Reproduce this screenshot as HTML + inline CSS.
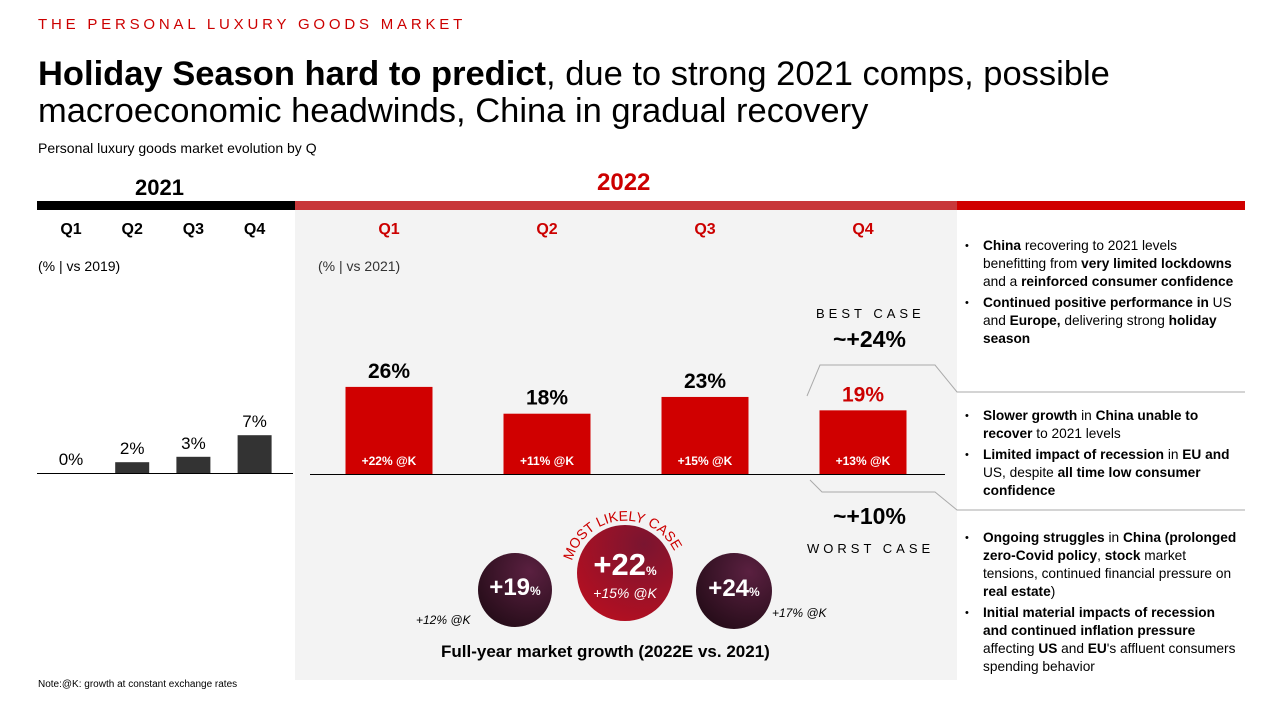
<!DOCTYPE html>
<html><head><meta charset="utf-8"><style>
body{margin:0;width:1280px;height:720px;position:relative;background:#fff;font-family:"Liberation Sans",sans-serif;overflow:hidden;color:#000}
.a{position:absolute;white-space:nowrap}
.q{position:absolute;top:221px;font-weight:bold;font-size:16px;transform:translateX(-50%)}
.bul{position:absolute;left:965px;width:272px;font-size:13.7px;line-height:18px}
.bul div{position:relative;padding-left:18px;margin-bottom:3px}
.bul div:before{content:"•";position:absolute;left:0;font-size:11px}
.circ{position:absolute;border-radius:50%;color:#fff;font-weight:bold;text-align:center}
</style></head><body>
<div class="a" style="left:38px;top:16px;font-size:15px;letter-spacing:3.8px;color:#c00">THE PERSONAL LUXURY GOODS MARKET</div>
<div class="a" style="left:38px;top:56px;font-size:34.5px;line-height:37px"><b>Holiday Season hard to predict</b>, due to strong 2021 comps, possible<br>macroeconomic headwinds, China in gradual recovery</div>
<div class="a" style="left:38px;top:140px;font-size:14px">Personal luxury goods market evolution by Q</div>
<div class="a" style="left:295px;top:209px;width:662px;height:471px;background:#f3f3f3"></div>
<div class="a" style="left:135px;top:175px;font-size:22px;font-weight:bold">2021</div>
<div class="a" style="left:597px;top:169px;font-size:24px;font-weight:bold;color:#c00">2022</div>
<div class="a" style="left:37px;top:201px;width:258px;height:9px;background:#000"></div>
<div class="a" style="left:295px;top:201px;width:662px;height:9px;background:#c8373a"></div>
<div class="a" style="left:957px;top:201px;width:288px;height:9px;background:#d00000"></div>
<div class="a" style="left:38px;top:258px;font-size:14px">(% | vs 2019)</div>
<div class="a" style="left:318px;top:258px;font-size:14px;color:#333">(% | vs 2021)</div>
<svg class="a" style="left:0;top:0" width="1280" height="720" id="chart">
<g id="g"></g>
<polyline points="807,396 820,365 935,365 957,392 1245,392" fill="none" stroke="#aaa"/>
<polyline points="810,480 822,492 935,492 957,510 1245,510" fill="none" stroke="#aaa"/>
</svg>
<div class="a" style="left:816px;top:306px;font-size:13px;letter-spacing:4px">BEST CASE</div>
<div class="a" style="left:833px;top:326px;font-size:23px;font-weight:bold">~+24%</div>
<div class="a" style="left:833px;top:503px;font-size:23px;font-weight:bold">~+10%</div>
<div class="a" style="left:807px;top:541px;font-size:13px;letter-spacing:4px">WORST CASE</div>
<div class="bul" style="top:237px">
<div><b>China</b> recovering to 2021 levels benefitting from <b>very limited lockdowns</b> and a <b>reinforced consumer confidence</b></div>
<div><b>Continued positive performance in</b> US and <b>Europe,</b> delivering strong <b>holiday season</b></div></div>
<div class="bul" style="top:407px">
<div><b>Slower growth</b> in <b>China unable to recover</b> to 2021 levels</div>
<div><b>Limited impact of recession</b> in <b>EU and</b> US, despite <b>all time low consumer confidence</b></div></div>
<div class="bul" style="top:529px">
<div><b>Ongoing struggles</b> in <b>China (prolonged zero-Covid policy</b>, <b>stock</b> market tensions, continued financial pressure on <b>real estate</b>)</div>
<div><b>Initial material impacts of recession and continued inflation pressure</b> affecting <b>US</b> and <b>EU</b>'s affluent consumers spending behavior</div></div>
<div class="circ" style="left:478px;top:553px;width:74px;height:74px;background:radial-gradient(circle at 70% 25%,#5a2040,#1a0810)"><div style="margin-top:21px;font-size:24px">+19<span style="font-size:12px">%</span></div></div>
<div class="circ" style="left:577px;top:525px;width:96px;height:96px;background:radial-gradient(circle at 70% 20%,#7a1530,#c00e1e)"><div style="margin-top:22px;font-size:31px">+22<span style="font-size:12px">%</span></div><div style="font-size:14px;font-style:italic;font-weight:normal;margin-top:2px">+15% @K</div></div>
<div class="circ" style="left:696px;top:553px;width:76px;height:76px;background:radial-gradient(circle at 70% 25%,#5a2040,#1a0810)"><div style="margin-top:22px;font-size:24px">+24<span style="font-size:12px">%</span></div></div>
<svg class="a" style="left:545px;top:493px" width="160" height="120"><path id="arc" d="M27,68 A55,55 0 0 1 133,68" fill="none"/><text font-size="14" fill="#c00" font-family="Liberation Sans"><textPath href="#arc">MOST LIKELY CASE</textPath></text></svg>
<div class="a" style="left:416px;top:613px;font-size:12px;font-style:italic">+12% @K</div>
<div class="a" style="left:772px;top:606px;font-size:12px;font-style:italic">+17% @K</div>
<div class="a" style="left:441px;top:642px;font-size:17px;font-weight:bold">Full-year market growth (2022E vs. 2021)</div>
<div class="a" style="left:38px;top:679px;font-size:10px">Note:@K: growth at constant exchange rates</div>
<script>
const q21=["Q1","Q2","Q3","Q4"];
const v21=[0,2,3,7];
const q22=["Q1","Q2","Q3","Q4"];
const v22=[26,18,23,19];
const k22=["+22% @K","+11% @K","+15% @K","+13% @K"];
const NS="http://www.w3.org/2000/svg",g=document.getElementById("g");
const x21=i=>71+i*61.2, y21=v=>473-v*5.4;
const x22=i=>389+i*158, y22=v=>474-v*3.35;
function el(t,a,txt){const e=document.createElementNS(NS,t);for(const k in a)e.setAttribute(k,a[k]);if(txt!=null)e.textContent=txt;g.appendChild(e);return e;}
q21.forEach((q,i)=>{const d=document.createElement("div");d.className="q";d.style.left=x21(i)+"px";d.textContent=q;

document.body.appendChild(d);
const b=el("rect",{x:x21(i)-17,y:y21(v21[i]),width:34,height:Math.max(1,473-y21(v21[i])),fill:"#333"});


const t=el("text",{x:x21(i),y:y21(v21[i])-8,"text-anchor":"middle","font-size":17,"font-family":"Liberation Sans"},v21[i]+"%");

});
const a1=el("line",{x1:37,x2:293,y1:473.5,y2:473.5,stroke:"#000"});


q22.forEach((q,i)=>{const d=document.createElement("div");d.className="q";d.style.left=x22(i)+"px";d.style.color="#c00";d.textContent=q;

document.body.appendChild(d);
const b=el("rect",{x:x22(i)-43.5,y:y22(v22[i]),width:87,height:474-y22(v22[i]),fill:"#d00000"});


const t=el("text",{x:x22(i),y:y22(v22[i])-9,"text-anchor":"middle","font-size":21,"font-weight":"bold","font-family":"Liberation Sans",fill:i==3?"#c00":"#000"},v22[i]+"%");


const k=el("text",{x:x22(i),y:465,"text-anchor":"middle","font-size":12,"font-weight":"bold","font-family":"Liberation Sans",fill:"#fff"},k22[i]);

});
const a2=el("line",{x1:310,x2:945,y1:474.5,y2:474.5,stroke:"#000"});


</script>
</body></html>
